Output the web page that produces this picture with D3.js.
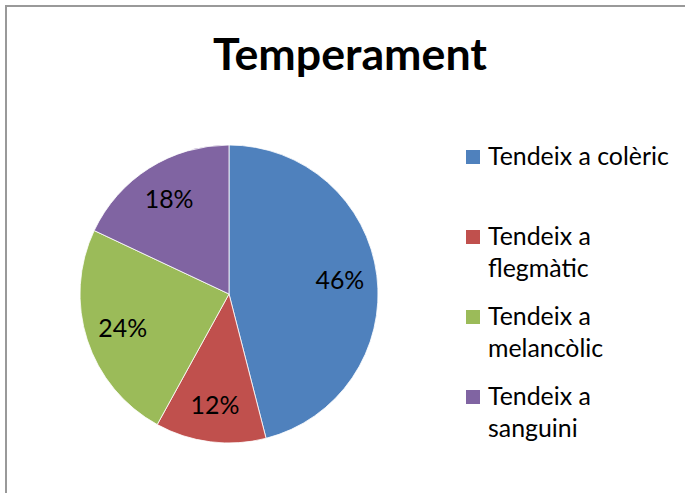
<!DOCTYPE html>
<html>
<head>
<meta charset="utf-8">
<script src="https://cdnjs.cloudflare.com/ajax/libs/d3/7.8.5/d3.min.js"></script>
<style>
	body { margin: 0; background: #fff; }
	svg { display: block; font-family: Lato, 'Open Sans', sans-serif; }
</style>
</head>
<body>
<svg id="chart" width="685" height="493"></svg>
<script>
	var title = 'Temperament';
	var categories = ['Tendeix a colèric', 'Tendeix a flegmàtic', 'Tendeix a melancòlic', 'Tendeix a sanguini'];
	var values = [46, 12, 24, 18];
	var colors = ['#4F81BD', '#C0504D', '#9BBB59', '#8064A2'];

	var svg = d3.select('#chart');

	// chart area frame, only left and top edges show in the crop
	svg.append('path')
		.attr('d', 'M686,6H6V494')
		.attr('fill', 'none')
		.attr('stroke', '#999')
		.attr('stroke-width', 2);

	// size a font so a sample string gets a given width
	function fitSize(text, weight, targetWidth) {
		var t = svg.append('text').attr('font-size', 20).attr('font-weight', weight).text(text);
		var w = t.node().getComputedTextLength();
		t.remove();
		return 20 * targetWidth / w;
	}

	var titleSize = fitSize(title, 'bold', 274);
	var labelSize = fitSize(categories[0], 'normal', 181);

	svg.append('text')
		.attr('x', 350)
		.attr('y', 70)
		.attr('text-anchor', 'middle')
		.attr('font-weight', 'bold')
		.attr('font-size', titleSize)
		.attr('fill', '#000')
		.text(title);

	var cx = 229, cy = 294, radius = 149;

	var pie = d3.pie().sort(null).value(function(d){ return d; });
	var arcs = pie(values);

	var arc = d3.arc().innerRadius(0).outerRadius(radius);
	var labelArc = d3.arc().innerRadius(radius * 0.75).outerRadius(radius * 0.75);

	var g = svg.append('g').attr('transform', 'translate(' + cx + ',' + cy + ')');

	g.selectAll('path')
		.data(arcs)
		.enter()
		.append('path')
		.attr('d', arc)
		.attr('fill', function(d, i){ return colors[i]; })
		.attr('stroke', '#fff')
		.attr('stroke-width', 0.8);

	var total = d3.sum(values);
	g.selectAll('text')
		.data(arcs)
		.enter()
		.append('text')
		.attr('transform', function(d){ return 'translate(' + labelArc.centroid(d) + ')'; })
		.attr('text-anchor', 'middle')
		.attr('dy', '0.35em')
		.attr('font-size', labelSize)
		.attr('fill', '#000')
		.text(function(d){ return Math.round(d.value / total * 100) + '%'; });

	// legend, wrapped like the original
	var legendX = 466, legendY = 165, legendStep = 80, lineHeight = 32, maxWidth = 190;

	var legend = svg.append('g');
	categories.forEach(function(name, i){
		var y = legendY + i * legendStep;
		legend.append('rect')
			.attr('x', legendX)
			.attr('y', y - 15)
			.attr('width', 14)
			.attr('height', 14)
			.attr('fill', colors[i]);

		var text = legend.append('text')
			.attr('x', legendX + 22)
			.attr('y', y)
			.attr('font-size', labelSize)
			.attr('fill', '#000');

		var words = name.split(' ');
		var line = [];
		var lineNo = 0;
		var tspan = text.append('tspan').attr('x', legendX + 22).attr('y', y);
		words.forEach(function(word){
			line.push(word);
			tspan.text(line.join(' '));
			if (tspan.node().getComputedTextLength() > maxWidth && line.length > 1) {
				line.pop();
				tspan.text(line.join(' '));
				line = [word];
				lineNo++;
				tspan = text.append('tspan')
					.attr('x', legendX + 22)
					.attr('y', y + lineNo * lineHeight)
					.text(word);
			}
		});
	});
</script>
</body>
</html>
